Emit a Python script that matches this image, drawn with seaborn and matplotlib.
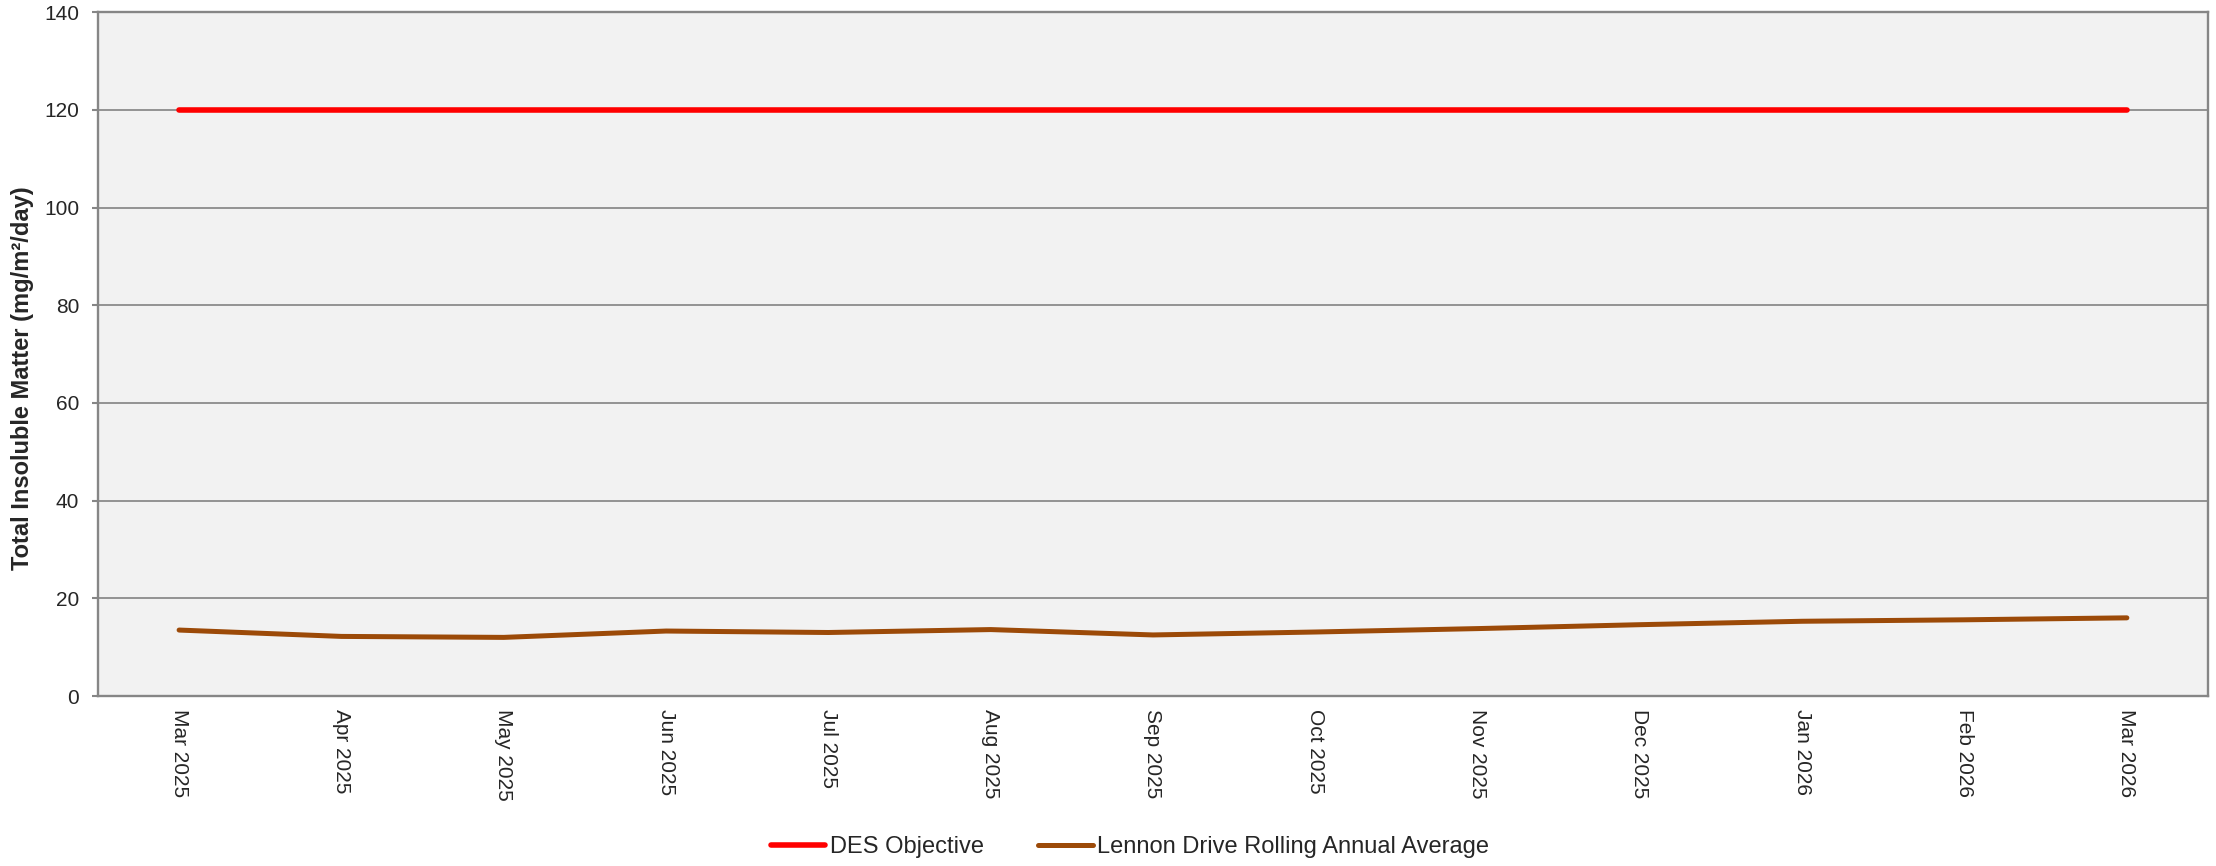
import pandas as pd
import matplotlib.pyplot as plt
import seaborn as sns
import numpy as np

# Chart data
months = ["Mar 2025", "Apr 2025", "May 2025", "Jun 2025", "Jul 2025", "Aug 2025",
          "Sep 2025", "Oct 2025", "Nov 2025", "Dec 2025", "Jan 2026", "Feb 2026", "Mar 2026"]
des_objective = [120] * 13
rolling_avg = [13.5, 12.2, 12.0, 13.3, 13.0, 13.6, 12.5, 13.1, 13.8, 14.6, 15.3, 15.6, 16.0]

df = pd.DataFrame({
    "idx": np.arange(len(months)),
    "month": months,
    "DES Objective": des_objective,
    "Lennon Drive Rolling Annual Average": rolling_avg,
})

sns.set_style("white")
plt.rcParams["font.family"] = ["Liberation Sans", "DejaVu Sans"]

fig, ax = plt.subplots(figsize=(22.16, 8.66), dpi=100)
fig.subplots_adjust(left=0.0442, right=0.9964, top=0.986, bottom=0.1963)
ax.set_facecolor("#F2F2F2")

sns.lineplot(data=df, x="idx", y="DES Objective", color="#FF0000", linewidth=4,
             label="DES Objective", ax=ax, solid_capstyle="round", zorder=3)
sns.lineplot(data=df, x="idx", y="Lennon Drive Rolling Annual Average", color="#9C4A08",
             linewidth=3.6, label="Lennon Drive Rolling Annual Average", ax=ax,
             solid_capstyle="round", zorder=3)

# Axes
ax.set_xlim(-0.5, len(months) - 0.5)
ax.set_ylim(0, 140)
ax.set_yticks(range(0, 141, 20))
ax.yaxis.grid(True, color="#8C8C8C", linewidth=1.3)
ax.set_axisbelow(True)
for s in ax.spines.values():
    s.set_color("#868686")
    s.set_linewidth(1.7)

ax.set_xticks(df["idx"])
ax.set_xticklabels(months, rotation=270, fontsize=15)
ax.set_xticks(np.arange(-0.5, len(months)), minor=True)
ax.tick_params(axis="x", which="major", length=0, pad=9)
ax.tick_params(axis="x", which="minor", length=4.5, width=1.5, color="#868686", direction="out")
ax.tick_params(axis="y", length=4.5, width=1.5, color="#868686", labelsize=15, pad=9, left=True)

ax.set_xlabel("")
ax.set_ylabel("Total Insoluble Matter (mg/m²/day)", fontsize=17, fontweight="bold")
ax.yaxis.set_label_coords(-0.0305, 0.465)

# Legend at the bottom
handles, labels = ax.get_legend_handles_labels()
ax.get_legend().remove()
fig.legend(handles, labels, loc="center", bbox_to_anchor=(0.51, 0.022), ncol=2,
           frameon=False, fontsize=17, handlelength=2.3, handletextpad=0.2,
           columnspacing=2.3)

plt.savefig("out.png", dpi=100)
plt.close()
